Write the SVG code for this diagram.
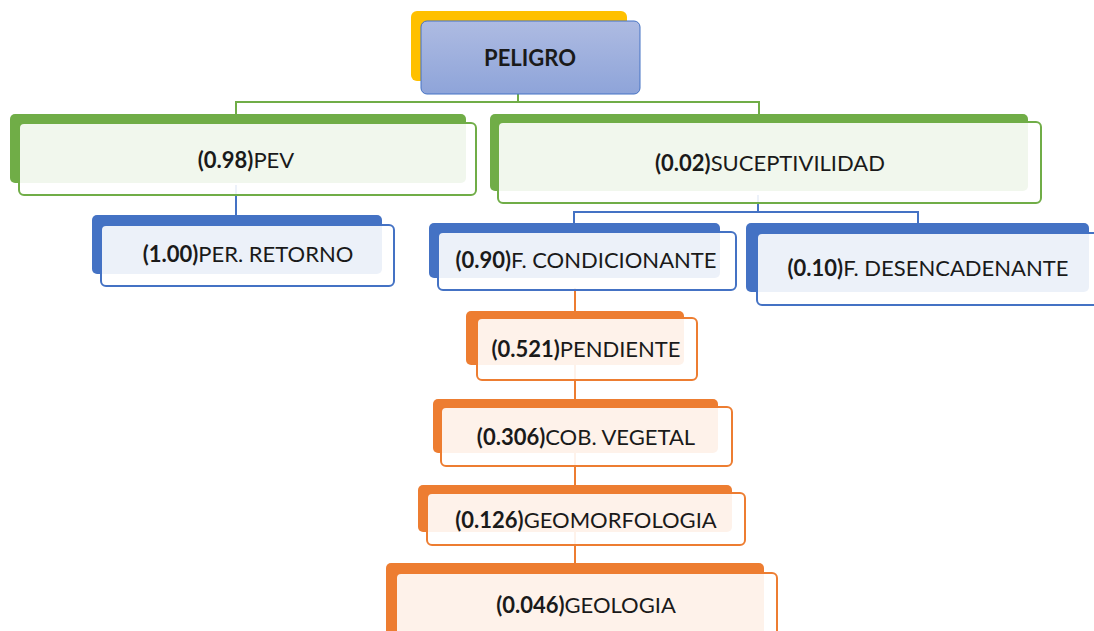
<svg xmlns="http://www.w3.org/2000/svg" width="1094" height="631" viewBox="0 0 1094 631">
<defs>
<linearGradient id="gPel" x1="0" y1="0" x2="0" y2="1">
<stop offset="0" stop-color="#aebbe2"/>
<stop offset="1" stop-color="#8ea4d9"/>
</linearGradient>
<style>
text{font-family:Lato,"Open Sans","Liberation Sans",sans-serif;font-size:22px;fill:#1a1a1a;text-anchor:middle;dominant-baseline:central}
.b{font-weight:bold}
.backG{fill:#70ad47}.backB{fill:#4472c4}.backO{fill:#ed7d31}
.front{fill:#ffffff;fill-opacity:0.9;stroke-width:2}
.fG{stroke:#70ad47}.fB{stroke:#4472c4}.fO{stroke:#ed7d31}
.cG{stroke:#70ad47;stroke-width:2;fill:none}
.cB{stroke:#4472c4;stroke-width:2;fill:none}
.cO{stroke:#ed7d31;stroke-width:2;fill:none}
</style>
</defs>
<rect width="1094" height="631" fill="#ffffff"/>
<g id="connectors">
<path class="cG" d="M518,94 V102 M236,102 H759 M236,101 V116 M759,101 V116"/>
<path class="cB" d="M236,185 V217"/>
<path class="cB" d="M758,195 V212 M574,212 H918 M574,211 V224 M918,211 V224"/>
<path class="cO" d="M575,288 V573"/>
</g>
<g id="peligro">
<rect x="411" y="11" width="216" height="70" rx="6" fill="#ffc000"/>
<rect x="421" y="21" width="219" height="73" rx="6" fill="url(#gPel)" stroke="#4472c4" stroke-width="1"/>
<text x="530" y="57" class="b">PELIGRO</text>
</g>
<g id="pev">
<rect class="backG" x="10" y="114" width="456" height="69" rx="5"/>
<rect class="front fG" x="19" y="123" width="457" height="72" rx="5"/>
<text x="246" y="159"><tspan class="b">(0.98)</tspan>PEV</text>
</g>
<g id="suceptividad">
<rect class="backG" x="490" y="114" width="538" height="77" rx="5"/>
<rect class="front fG" x="498" y="122" width="543" height="81" rx="5"/>
<text x="770" y="162"><tspan class="b">(0.02)</tspan>SUCEPTIVILIDAD</text>
</g>
<g id="per-retorno">
<rect class="backB" x="92" y="215" width="290" height="59" rx="5"/>
<rect class="front fB" x="101" y="225" width="293" height="61" rx="5"/>
<text x="248" y="253"><tspan class="b">(1.00)</tspan>PER. RETORNO</text>
</g>
<g id="f-condicionante">
<rect class="backB" x="429" y="223" width="291" height="55" rx="5"/>
<rect class="front fB" x="438" y="232" width="298" height="58" rx="5"/>
<text x="586" y="259"><tspan class="b">(0.90)</tspan>F. CONDICIONANTE</text>
</g>
<g id="f-desencadenante">
<rect class="backB" x="746" y="223" width="343" height="69" rx="5"/>
<rect class="front fB" x="757" y="233" width="345" height="72" rx="5"/>
<text x="928" y="267"><tspan class="b">(0.10)</tspan>F. DESENCADENANTE</text>
</g>
<g id="pendiente">
<rect class="backO" x="466" y="311" width="218" height="54" rx="5"/>
<rect class="front fO" x="477" y="318" width="220" height="62" rx="5"/>
<text x="586" y="348"><tspan class="b">(0.521)</tspan>PENDIENTE</text>
</g>
<g id="cob-vegetal">
<rect class="backO" x="433" y="399" width="285" height="54" rx="5"/>
<rect class="front fO" x="441" y="407" width="291" height="59" rx="5"/>
<text x="586" y="436"><tspan class="b">(0.306)</tspan>COB. VEGETAL</text>
</g>
<g id="geomorfologia">
<rect class="backO" x="418" y="485" width="314" height="47" rx="5"/>
<rect class="front fO" x="427" y="493" width="318" height="52" rx="5"/>
<text x="586" y="519"><tspan class="b">(0.126)</tspan>GEOMORFOLOGIA</text>
</g>
<g id="geologia">
<rect class="backO" x="386" y="563" width="378" height="80" rx="5"/>
<rect class="front fO" x="396" y="573" width="381" height="80" rx="5"/>
<text x="586" y="604"><tspan class="b">(0.046)</tspan>GEOLOGIA</text>
</g>
</svg>
